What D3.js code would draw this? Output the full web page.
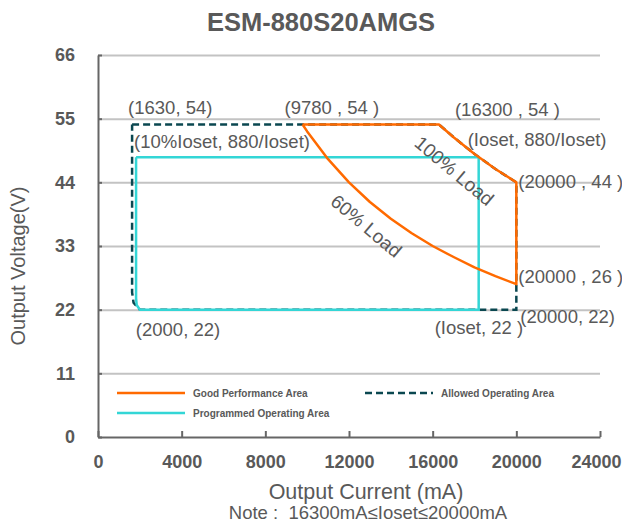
<!DOCTYPE html>
<html>
<head>
<meta charset="utf-8">
<script src="https://cdn.jsdelivr.net/npm/d3@7"></script>
<style>
  body { margin: 0; background: #fff; }
  svg { display: block; font-family: "Liberation Sans", Arial, sans-serif; }
  .grid line { stroke: #c3c3c3; stroke-width: 2; }
  .grid path { display: none; }
  .axis path, .axis line { stroke: #666; stroke-width: 2; }
  .axis text { fill: #595959; font-weight: bold; font-size: 18px; }
  .note { fill: #595959; white-space: pre; }
</style>
</head>
<body>
<script>
//tick values for both axes
var xTicks = [0, 4000, 8000, 12000, 16000, 20000, 24000];
var yTicks = [0, 11, 22, 33, 44, 55, 66];

//areas, [current mA, voltage V]
var goodArea = [[9780, 54], [16300, 54], [17000, 51.8], [18000, 48.9], [19000, 46.3], [20000, 44],
    [20000, 26.4], [19000, 27.8], [18000, 29.3], [17000, 31.1], [16000, 33], [15000, 35.2],
    [14000, 37.7], [13000, 40.6], [12000, 44], [11000, 48], [10000, 52.8], [9780, 54]];
var allowedArea = [[1630, 54], [16300, 54], [17000, 51.8], [18000, 48.9], [19000, 46.3], [20000, 44],
    [20000, 22], [2000, 22], [1700, 23.2], [1630, 25], [1630, 54]];
var programmedArea = [[1820, 48.35], [18200, 48.35], [18200, 22], [2000, 22], [1850, 22.8],
    [1820, 24], [1820, 48.35]];

//point labels: text, current, voltage (anchor), pixel offsets
var pointLabels = [
    ["(1630, 54)", 1630, 54, -4, -10],
    ["(10%Ioset, 880/Ioset)", 1630, 48.35, 2, -9],
    ["(9780 , 54 )", 9780, 54, -18, -10],
    ["(16300 , 54 )", 16300, 54, 16, -8],
    ["(Ioset, 880/Ioset)", 18200, 48.35, -11, -11],
    ["(20000 , 44 )", 20000, 44, 2, 6],
    ["(20000 , 26 )", 20000, 26.4, 2, -1],
    ["(20000, 22)", 20000, 22, 4, 13],
    ["(Ioset, 22 )", 18200, 22, -44, 24],
    ["(2000, 22)", 2000, 22, -4, 26]
];

var legendItems = [
    {name: "Good Performance Area", color: "#ff6a00", dash: null, col: 0, row: 0},
    {name: "Allowed Operating Area", color: "#0a4750", dash: "7,4", col: 1, row: 0},
    {name: "Programmed Operating Area", color: "#33d6d6", dash: null, col: 0, row: 1}
];

var width = 622, height = 525;
var margin = {left: 98, right: 22, top: 55, bottom: 88};

var svg = d3.select("body").append("svg")
    .attr("width", width)
    .attr("height", height);

var x = d3.scaleLinear().domain([0, 24000]).range([margin.left, width - margin.right]);
var y = d3.scaleLinear().domain([0, 66]).range([height - margin.bottom, margin.top]);

//gridlines
svg.append("g")
    .attr("class", "grid")
    .attr("transform", "translate(" + margin.left + ",0)")
    .call(d3.axisLeft(y).tickValues(yTicks.slice(1)).tickSize(-(x(24000) - x(0))).tickFormat(""));

//title
svg.append("text")
    .attr("x", 321)
    .attr("y", 31)
    .attr("text-anchor", "middle")
    .style("font-size", "25.5px")
    .style("font-weight", "bold")
    .style("fill", "#595959")
    .text("ESM-880S20AMGS");

var line = d3.line()
    .x(function(d){ return x(d[0]); })
    .y(function(d){ return y(d[1]); });

//allowed (dashed), programmed, good performance
svg.append("path")
    .datum(allowedArea)
    .attr("d", line)
    .attr("fill", "none")
    .attr("stroke", "#0a4750")
    .attr("stroke-width", 2.5)
    .attr("stroke-dasharray", "7,4");

svg.append("path")
    .datum(programmedArea)
    .attr("d", line)
    .attr("fill", "none")
    .attr("stroke", "#33d6d6")
    .attr("stroke-width", 2.5);

svg.append("path")
    .datum(goodArea)
    .attr("d", line)
    .attr("fill", "none")
    .attr("stroke", "#ff6a00")
    .attr("stroke-width", 2.5)
    .attr("stroke-linejoin", "round");

//axes
svg.append("g")
    .attr("class", "axis")
    .attr("transform", "translate(" + margin.left + ",0)")
    .call(d3.axisLeft(y).tickValues(yTicks).tickSize(-4).tickPadding(23).tickSizeOuter(0));

var xAxis = svg.append("g")
    .attr("class", "axis")
    .attr("transform", "translate(0," + y(0) + ")")
    .call(d3.axisBottom(x).tickValues(xTicks).tickFormat(d3.format("d"))
        .tickSize(-6).tickPadding(18).tickSizeOuter(0));

//last label sits against the right edge
xAxis.selectAll(".tick text")
    .filter(function(d){ return d === 24000; })
    .attr("dx", -4);

//point labels
svg.selectAll(".pt")
    .data(pointLabels)
    .enter()
    .append("text")
    .attr("class", "note")
    .attr("x", function(d){ return x(d[1]) + d[3]; })
    .attr("y", function(d){ return y(d[2]) + d[4]; })
    .style("font-size", "18.5px")
    .text(function(d){ return d[0]; });

//load curve labels
svg.append("text")
    .attr("class", "note")
    .attr("text-anchor", "middle")
    .attr("transform", "translate(450,176) rotate(40)")
    .style("font-size", "19px")
    .text("100% Load");

svg.append("text")
    .attr("class", "note")
    .attr("text-anchor", "middle")
    .attr("transform", "translate(362,231) rotate(40)")
    .style("font-size", "19px")
    .text("60% Load");

//legend
var legend = svg.selectAll(".legend")
    .data(legendItems)
    .enter()
    .append("g")
    .attr("transform", function(d){
        return "translate(" + (117 + d.col * 248) + "," + (393 + d.row * 20) + ")";
    });

legend.append("line")
    .attr("x1", 0)
    .attr("x2", 68)
    .attr("stroke", function(d){ return d.color; })
    .attr("stroke-width", 2.5)
    .attr("stroke-dasharray", function(d){ return d.dash; });

legend.append("text")
    .attr("x", 76)
    .attr("dy", "0.35em")
    .style("font-size", "10px")
    .style("font-weight", "bold")
    .style("fill", "#595959")
    .text(function(d){ return d.name; });

//axis titles
svg.append("text")
    .attr("class", "note")
    .attr("text-anchor", "middle")
    .attr("transform", "translate(25,266) rotate(-90)")
    .style("font-size", "20px")
    .text("Output Voltage(V)");

svg.append("text")
    .attr("class", "note")
    .attr("x", 366)
    .attr("y", 499)
    .attr("text-anchor", "middle")
    .style("font-size", "21.5px")
    .text("Output Current (mA)");

svg.append("text")
    .attr("class", "note")
    .attr("x", 368)
    .attr("y", 519)
    .attr("text-anchor", "middle")
    .style("font-size", "18.5px")
    .text("Note :  16300mA\u2264Ioset\u226420000mA");
</script>
</body>
</html>
